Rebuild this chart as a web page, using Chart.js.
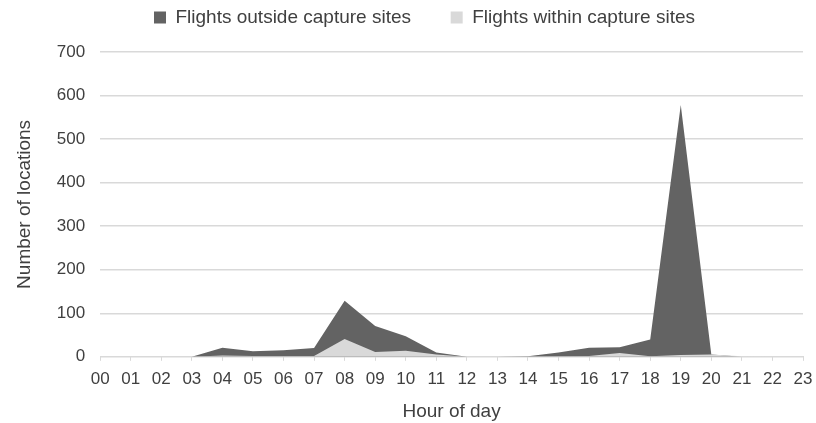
<!DOCTYPE html>
<html>
<head>
<meta charset="utf-8">
<script src="https://cdn.jsdelivr.net/npm/chart.js@4"></script>
<style>
  html, body { margin: 0; padding: 0; background: #fff; }
  #wrap { width: 816px; height: 423px; }
</style>
</head>
<body>
<div id="wrap"><canvas id="chart" width="816" height="423"></canvas></div>
<script>
const hours = ["00","01","02","03","04","05","06","07","08","09","10","11",
               "12","13","14","15","16","17","18","19","20","21","22","23"];
const outside = [0, 0, 0, 0, 21, 13, 15, 20, 129, 71, 47, 10,
                 0, 0, 1, 10, 21, 22, 40, 578, 5, 0, 0, 0];
const within = [0, 0, 0, 0, 3, 2, 2, 2, 41, 11, 14, 5,
                0, 0, 0, 1, 2, 9, 1, 4, 5, 1, 0, 0];
const yTicks = [0, 100, 200, 300, 400, 500, 600, 700];

const textColor = "#404040";
const gridColor = "#d9d9d9";
const font = "'Liberation Sans', Arial, sans-serif";

// legend: a bit more room under it, and start it near x=157 like the reference
const legendShift = {
  id: "legendShift",
  beforeLayout(chart) {
    const lg = chart.legend;
    if (lg && !lg._patched) {
      const fit = lg.fit;
      lg.fit = function () { fit.call(this); this.height += 15; };
      lg._patched = true;
    }
  },
  afterLayout(chart) {
    chart.legend.left = 146;
  }
};

new Chart(document.getElementById("chart").getContext("2d"), {
  type: "line",
  data: {
    labels: hours,
    datasets: [
      // first in list = drawn on top
      { label: "Flights within capture sites", data: within, backgroundColor: "#d9d9d9",
        borderWidth: 0, pointRadius: 0, fill: "origin", tension: 0 },
      { label: "Flights outside capture sites", data: outside, backgroundColor: "#636363",
        borderWidth: 0, pointRadius: 0, fill: "origin", tension: 0 }
    ]
  },
  plugins: [legendShift],
  options: {
    responsive: false,
    animation: false,
    layout: { padding: { left: 9, right: 3, top: 0, bottom: 0 } },
    plugins: {
      legend: {
        position: "top",
        align: "start",
        reverse: true,
        labels: {
          color: textColor,
          font: { family: font, size: 19 },
          boxWidth: 12,
          boxHeight: 12,
          padding: 8,
          generateLabels(chart) {
            const items = Chart.defaults.plugins.legend.labels.generateLabels(chart);
            items.forEach(it => { if (it.datasetIndex === 1) it.text += "      "; });
            return items;
          }
        }
      },
      tooltip: { enabled: false }
    },
    scales: {
      x: {
        offset: false,
        afterFit: (scale) => { scale.paddingRight = 13; },
        grid: { drawOnChartArea: false, drawTicks: true, tickLength: 4, color: gridColor },
        border: { color: gridColor },
        ticks: { color: textColor, font: { family: font, size: 17 }, maxRotation: 0, autoSkip: false, padding: 8 },
        title: { display: true, text: "Hour of day", color: textColor,
                 font: { family: font, size: 19 }, padding: { top: 3, bottom: 0 } }
      },
      y: {
        min: 0,
        max: 700,
        afterBuildTicks: (axis) => { axis.ticks = yTicks.map(v => ({ value: v })); },
        grid: { color: gridColor, drawTicks: false, lineWidth: 1.5 },
        border: { display: false },
        ticks: { color: textColor, font: { family: font, size: 17 }, padding: 15 },
        title: { display: true, text: "Number of locations", color: textColor,
                 font: { family: font, size: 19 }, padding: { top: 4, bottom: 6 } }
      }
    }
  }
});
</script>
</body>
</html>
